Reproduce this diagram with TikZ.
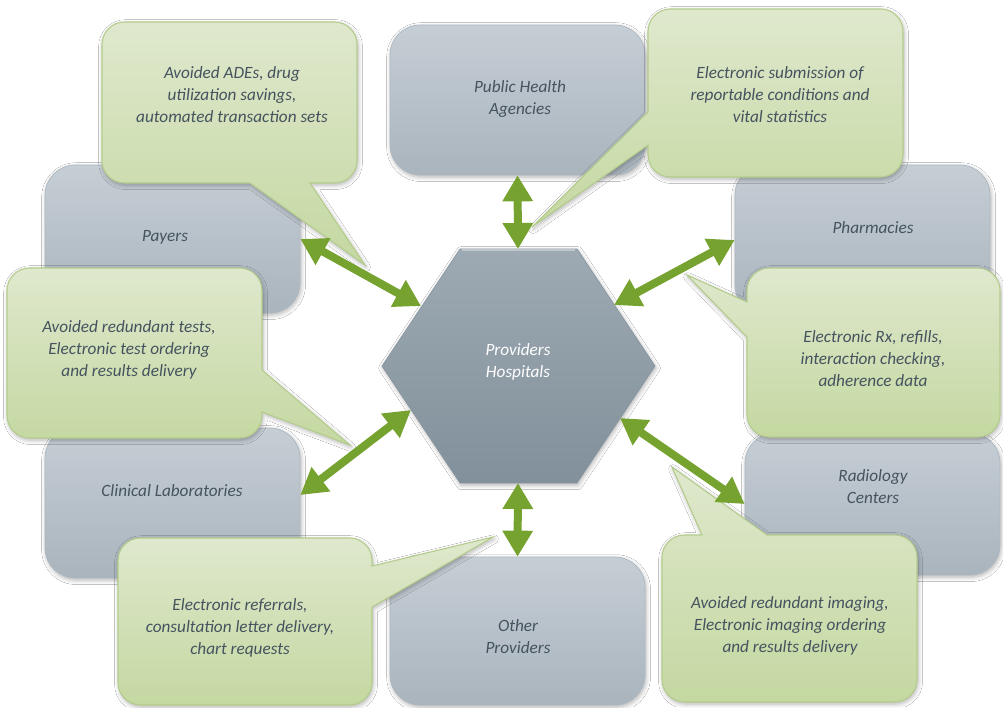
\documentclass[tikz,border=0pt]{standalone}
\usepackage{fontspec}
\setmainfont{Carlito}
\usetikzlibrary{arrows.meta,shadows.blur,calc}
\definecolor{txt}{HTML}{45535F}
\definecolor{gtop}{HTML}{C6CED5}
\definecolor{gbot}{HTML}{A9B4BD}
\definecolor{gline}{HTML}{AEB8C1}
\definecolor{htop}{HTML}{9DAAB3}
\definecolor{hbot}{HTML}{82909B}
\definecolor{hline}{HTML}{8A97A1}
\definecolor{ctop}{HTML}{DFE8CD}
\definecolor{cbot}{HTML}{C4D8A1}
\definecolor{cline}{HTML}{B4CC8B}
\definecolor{agreen}{HTML}{76A22F}
\begin{document}
\begin{tikzpicture}[x=0.02cm,y=-0.02cm,
  sh/.style={blur shadow={shadow xshift=0.6pt,shadow yshift=-1.2pt,shadow blur radius=2.5pt,shadow blur steps=6,shadow opacity=30}},
  graybox/.style={rectangle,rounded corners=0.6cm,minimum width=5.1cm,top color=gtop,bottom color=gbot,draw=gline,line width=0.4pt,sh},
  callout/.style={top color=ctop,bottom color=cbot,draw=cline,line width=0.6pt,sh},
  lbl/.style={font=\fontsize{9.8}{12.5}\selectfont\itshape,text=txt,align=center,inner sep=0pt},
  arr/.style={draw=agreen,line width=0.16cm,{Triangle[width=0.58cm,length=0.52cm]}-{Triangle[width=0.58cm,length=0.52cm]}}
]
\useasboundingbox (0,0) rectangle (1003,707);
\fill[white] (0,0) rectangle (1003,707);

% gray boxes
\node[graybox,minimum height=3cm]    (pha) at (517.5,100) {};
\node[graybox,minimum height=2.96cm] (pay) at (172.5,239) {};
\node[graybox,minimum height=3cm]    (phm) at (862.5,240) {};
\node[graybox,minimum height=3cm]    (lab) at (172.5,503) {};
\node[graybox,minimum height=2.84cm] (rad) at (872.5,504) {};
\node[graybox,minimum height=2.96cm] (oth) at (517.5,631) {};

\node[lbl] (t-pha) at (520,99)  {Public Health\\Agencies};
\node[lbl] (t-pay) at (165,237) {Payers};
\node[lbl] (t-phm) at (873,228) {Pharmacies};
\node[lbl] (t-lab) at (172,491) {Clinical Laboratories};
\node[lbl] (t-rad) at (873,487) {Radiology\\Centers};
\node[lbl] (t-oth) at (518,637) {Other\\Providers};

% hexagon
\coordinate (v1) at (460,249);
\coordinate (v2) at (577,249);
\coordinate (v3) at (655,366);
\coordinate (v4) at (577,483);
\coordinate (v5) at (460,483);
\coordinate (v6) at (382,366);
\path[top color=htop,bottom color=hbot,draw=hline,line width=0.4pt,sh] (v1) -- (v2) -- (v3) -- (v4) -- (v5) -- (v6) -- cycle;
\draw[white,opacity=0.35,line width=1.2pt] ([xshift=1pt,yshift=-0.8pt]v1) -- ([xshift=-1pt,yshift=-0.8pt]v2);
\node[lbl,text=white] (hex) at (518,362) {Providers\\Hospitals};

% callouts (tip, base A, four rounded corners, base B)
\path[callout] (365,265) -- (310,183) [rounded corners=0.45cm] -- (357,183) -- (357,22) -- (102,22) -- (102,183) [sharp corners] -- (250,183) -- cycle;
\path[callout] (532,227) -- (648,145) [rounded corners=0.45cm] -- (648,177) -- (903,177) -- (903,9) -- (648,9) [sharp corners] -- (648,112) -- cycle;
\path[callout] (350,445) -- (262,412) [rounded corners=0.45cm] -- (262,438) -- (7,438) -- (7,268) -- (262,268) [sharp corners] -- (262,370) -- cycle;
\path[callout] (687,275) -- (747,302) [rounded corners=0.45cm] -- (747,268) -- (1000,268) -- (1000,437) -- (747,437) [sharp corners] -- (747,337) -- cycle;
\path[callout] (672,467) -- (702,535) [rounded corners=0.45cm] -- (662,535) -- (662,702) -- (917,702) -- (917,535) [sharp corners] -- (767,535) -- cycle;
\path[callout] (493,537) -- (372,607) [rounded corners=0.45cm] -- (372,705) -- (118,705) -- (118,538) -- (372,538) [sharp corners] -- (372,566) -- cycle;

\node[lbl] (c-ade) at (232,95)  {Avoided ADEs, drug\\utilization savings,\\automated transaction sets};
\node[lbl] (c-pha) at (780,95)  {Electronic submission of\\reportable conditions and\\vital statistics};
\node[lbl] (c-lab) at (129,350) {Avoided redundant tests,\\Electronic test ordering\\and results delivery};
\node[lbl] (c-phm) at (873,359) {Electronic Rx, refills,\\interaction checking,\\adherence data};
\node[lbl] (c-rad) at (790,626) {Avoided redundant imaging,\\Electronic imaging ordering\\and results delivery};
\node[lbl] (c-oth) at (240,628) {Electronic referrals,\\consultation letter delivery,\\chart requests};

% arrow end points on the hexagon
\coordinate (hPay) at (421,306);
\coordinate (hPha) at (614,305);
\coordinate (hLab) at (411,410);
\coordinate (hRad) at (620,418);
\coordinate (hTop) at (518,249);
\coordinate (hBot) at (518,483);

\draw[arr] (pay.east) -- (hPay);
\draw[arr] (phm.west) -- (hPha);
\draw[arr] ([yshift=0.16cm]lab.east) -- (hLab);
\draw[arr] (rad.west) -- (hRad);
\draw[arr] (pha.south) -- (hTop);
\draw[arr] (hBot) -- (oth.north);
\end{tikzpicture}
\end{document}
